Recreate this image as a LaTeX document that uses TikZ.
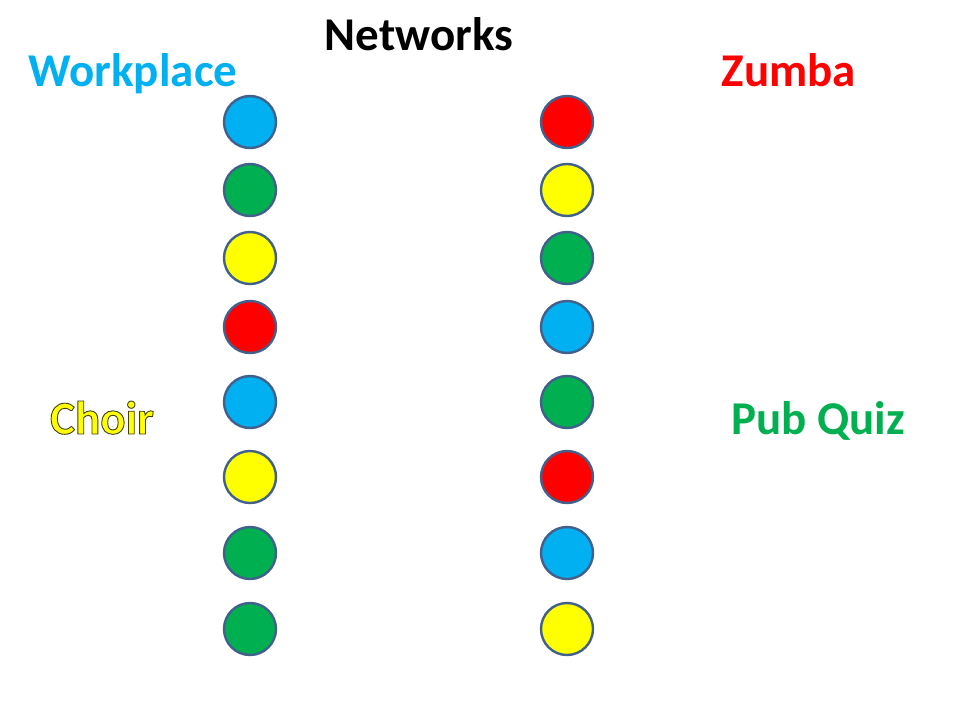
\documentclass[tikz,border=0pt]{standalone}
\usepackage{fontspec}
\setmainfont{Carlito}
\definecolor{cblue}{HTML}{00B0F0}
\definecolor{cgreen}{HTML}{00B050}
\definecolor{cyel}{HTML}{FFFF00}
\definecolor{cred}{HTML}{FF0000}
\definecolor{cedge}{HTML}{41608C}
\newcommand{\outlinedtext}[1]{\special{pdf:code 2 Tr 0.9 w 0.25 0.25 0.1 RG}#1\special{pdf:code 0 Tr}}
\begin{document}
\begin{tikzpicture}[x=1pt,y=-1pt,
  dot/.style={circle,draw=cedge,line width=2.4pt,minimum size=52pt,inner sep=0pt},
  lbl/.style={font=\fontsize{47}{50}\selectfont\bfseries,inner sep=0pt,anchor=base}]
\useasboundingbox (0,0) rectangle (960,720);
\fill[white] (0,0) rectangle (960,720);
\node[lbl,text=black] (title) at (419,50) {Networks};
\node[lbl,text=cblue] (work) at (133,86) {Workplace};
\node[lbl,text=cred] (zumba) at (789,86) {Zumba};
\node[lbl,text=cyel] (choir) at (102,434) {\outlinedtext{Choir}};
\node[lbl,text=cgreen] (quiz) at (818,434) {Pub Quiz};
\foreach \y/\c [count=\i] in {122/cblue,190/cgreen,258/cyel,327/cred,402/cblue,477/cyel,553/cgreen,629/cgreen}
  \node[dot,fill=\c] (L\i) at (250,\y) {};
\foreach \y/\c [count=\i] in {122/cred,190/cyel,258/cgreen,327/cblue,402/cgreen,477/cred,553/cblue,629/cyel}
  \node[dot,fill=\c] (R\i) at (567,\y) {};
\end{tikzpicture}
\end{document}
